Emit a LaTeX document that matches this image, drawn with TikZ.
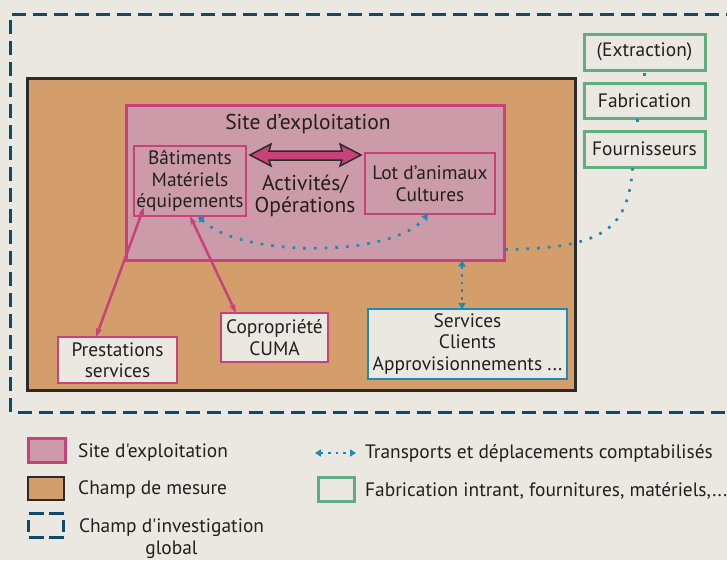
\documentclass[tikz,border=0pt]{standalone}
\usepackage{fontspec}
\setmainfont{PT Sans}[Ligatures=TeXOff]
\usetikzlibrary{arrows.meta,calc}
\definecolor{bg}{HTML}{EBE8E1}
\definecolor{champ}{HTML}{D39E6B}
\definecolor{sitefill}{HTML}{CC9BAA}
\definecolor{pinkb}{HTML}{C8427A}
\definecolor{navy}{HTML}{0E4A6B}
\definecolor{dotblue}{HTML}{1A8BB5}
\definecolor{greenb}{HTML}{5FAD82}
\definecolor{ink}{HTML}{231F20}
\definecolor{dark}{HTML}{2B2B2B}
\tikzset{
  box/.style={rectangle, inner sep=0pt, outer sep=0pt, align=center, text=ink},
  greenbox/.style={box, draw=greenb, line width=3pt, fill=bg},
  pinkbox/.style={box, draw=pinkb, line width=2.5pt},
  bluebox/.style={box, draw=dotblue, line width=2.5pt, fill=bg},
  dotline/.style={draw=dotblue, line width=2.7pt, line cap=butt, dash pattern=on 2.7pt off 8pt},
  dottip/.style={{Triangle[width=7pt,length=6pt]}-{Triangle[width=7pt,length=6pt]}},
  pinkarrow/.style={draw=pinkb, line width=2.5pt, {Stealth[length=9pt,width=6pt]}-{Stealth[length=9pt,width=6pt]}},
  legtext/.style={anchor=west, inner sep=0pt, text=ink},
  bigtext/.style={font=\fontsize{21.5}{22}\selectfont},
  navydash/.style={draw=navy, line width=3.3pt, line cap=butt},
}
\begin{document}
\begin{tikzpicture}[x=1pt,y=-1pt, font=\fontsize{19.4}{21.5}\selectfont]
\fill[bg] (0,0) rectangle (727,560);
\useasboundingbox (0,0) rectangle (727,560);

% outer dashed frame (open to the right)
\draw[navy, line width=3.3pt, dash pattern=on 14pt off 7pt]
  (740,14.7) -- (10.7,14.7) -- (10.7,412.5) -- (740,412.5);

% champ de mesure
\node[box, draw=dark, fill=champ, line width=2.5pt, minimum width=548pt, minimum height=312pt] (champ) at (301.5,234.5) {};

% site d'exploitation
\node[box, draw=pinkb, fill=sitefill, line width=3.5pt, minimum width=378pt, minimum height=155pt] (site) at (315.5,183) {};
\node[box, bigtext] (sitelbl) at (308,124) {Site d’exploitation};

\node[pinkbox, minimum width=112pt, minimum height=70pt] (bat) at (190,181) {Bâtiments\\Matériels\\équipements};
\node[pinkbox, minimum width=130pt, minimum height=61pt] (lot) at (430,183.5) {Lot d’animaux\\Cultures};
\node[box, bigtext] (act) at (305,196) {Activités/\\Opérations};

% fat double arrow
\filldraw[fill=pinkb, draw=dark, line width=1.5pt, line join=miter]
  (250,155) -- (271,144) -- (269,151) -- (342,151) -- (340,144) -- (361,155)
  -- (340,166) -- (342,160) -- (269,160) -- (271,166) -- cycle;

% green boxes
\node[greenbox, minimum width=121pt, minimum height=36pt] (extr) at (644.5,52) {(Extraction)};
\node[greenbox, minimum width=121pt, minimum height=35pt] (fab) at (644.5,100.5) {Fabrication};
\node[greenbox, minimum width=121pt, minimum height=36pt] (four) at (644.5,149) {Fournisseurs};

% lower boxes
\node[bluebox, minimum width=199pt, minimum height=70pt] (serv) at (467.5,344) {Services\\Clients\\Approvisionnements ...};
\node[pinkbox, fill=bg, minimum width=107pt, minimum height=49pt] (copro) at (274.5,337.5) {Copropriété\\CUMA};
\node[pinkbox, fill=bg, minimum width=119pt, minimum height=46pt] (prest) at (117.5,360) {Prestations\\services};

% dotted connectors
\draw[dotline, dash pattern=on 2.7pt off 12pt, shorten <=3pt] (extr.south) -- (fab.north);
\draw[dotline, dash pattern=on 2.7pt off 12pt, shorten <=1pt] ($(fab.south)+(-7,0)$) -- ($(four.north)+(-7,0)$);
\draw[dotline] ($(four.south)+(-12,1)$) .. controls (628,232) and (600,248) .. (site.east |- 0,249.5);
\draw[dotline, dottip] ($(bat.south)+(8,0)$) .. controls (240,258) and (392,258) .. ($(lot.south)+(-2,0)$);
\draw[dotline, dottip, dash pattern=on 2.7pt off 5pt] (site.south -| 462,0) -- (serv.north -| 462,0);

% pink arrows
\draw[pinkarrow] ($(bat.south west)+(10,-9)$) -- ($(prest.north west)+(38,0)$);
\draw[pinkarrow] (bat.south) -- ($(copro.north west)+(15,0)$);

% legend
\node[box, draw=pinkb, fill=sitefill, line width=3pt, minimum width=37pt, minimum height=24pt] (lg1) at (47,450.5) {};
\node[legtext] (lt1) at (78,453) {Site d'exploitation};
\node[box, draw=dark, fill=champ, line width=2.5pt, minimum width=36pt, minimum height=23pt] (lg2) at (46,488.5) {};
\node[legtext] (lt2) at (78,490) {Champ de mesure};
\node[box, minimum width=35pt, minimum height=24pt] (lg3) at (46,525.5) {};
\draw[navydash] (lg3.north west) -- ++(15,0);
\draw[navydash] (lg3.north east) -- ++(-15,0);
\draw[navydash] (lg3.south west) -- ++(15,0);
\draw[navydash] (lg3.south east) -- ++(-15,0);
\draw[navydash] ($(lg3.west)+(0,-6)$) -- ++(0,12);
\draw[navydash] ($(lg3.east)+(0,-6)$) -- ++(0,12);
\node[box] (lt3) at (171.5,538.5) {Champ d'investigation\\global};

\coordinate (la) at (315,453);
\coordinate (lb) at (356,453);
\draw[dotline, dottip, dash pattern=on 2.5pt off 5pt, line width=2.5pt] (la) -- (lb);
\node[legtext] (lt4) at (365,453) {Transports et déplacements comptabilisés};
\node[box, draw=greenb, line width=3pt, minimum width=36pt, minimum height=24pt] (lg4) at (336,489) {};
\node[legtext] (lt5) at (365,491) {Fabrication intrant, fournitures, matériels,...};
\end{tikzpicture}
\end{document}
